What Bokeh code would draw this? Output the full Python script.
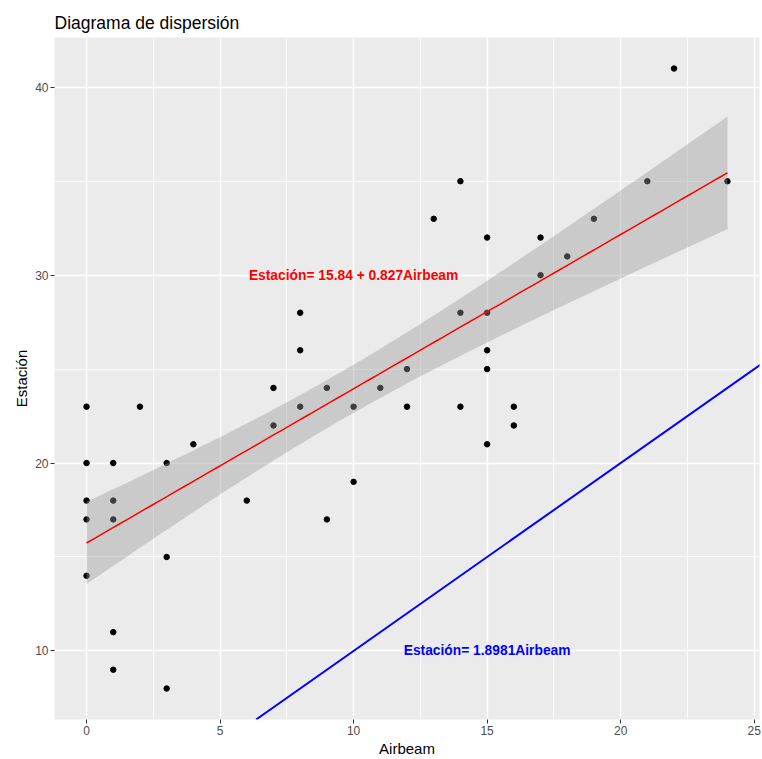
import numpy as np
from bokeh.plotting import figure
from bokeh.models import Range1d, Label, Slope, FixedTicker, ColumnDataSource
from bokeh.embed import file_html
from bokeh.resources import INLINE

# Data
airbeam = [0, 0, 0, 0, 0,
           1, 1, 1, 1, 1,
           2,
           3, 3, 3,
           4,
           6,
           7, 7,
           8, 8, 8,
           9, 9,
           10, 10,
           11,
           12, 12,
           13,
           14, 14, 14,
           15, 15, 15, 15, 15,
           16, 16,
           17, 17,
           18,
           19,
           21,
           22,
           24]
estacion = [23, 20, 18, 17, 14,
            20, 18, 17, 11, 9,
            23,
            20, 15, 8,
            21,
            18,
            24, 22,
            28, 26, 23,
            24, 17,
            23, 19,
            24,
            25, 23,
            33,
            35, 28, 23,
            32, 28, 26, 25, 21,
            23, 22,
            32, 30,
            31,
            33,
            35,
            41,
            35]

x_ticks = [0, 5, 10, 15, 20, 25]
y_ticks = [10, 20, 30, 40]
fit_label = "Estación= 15.84 + 0.827Airbeam"
ref_label = "Estación= 1.8981Airbeam"
ref_slope = 1.0
ref_intercept = 0.0

x = np.array(airbeam, dtype=float)
y = np.array(estacion, dtype=float)
n = len(x)
xb, yb = x.mean(), y.mean()
sxx = ((x - xb) ** 2).sum()
b1 = ((x - xb) * (y - yb)).sum() / sxx
b0 = yb - b1 * xb
resid = y - (b0 + b1 * x)
s = np.sqrt((resid ** 2).sum() / (n - 2))
tq = 2.0167  # t quantile 0.975, df=43
xs = np.linspace(x.min(), x.max(), 80)
ys = b0 + b1 * xs
se = s * np.sqrt(1.0 / n + (xs - xb) ** 2 / sxx)
lo, hi = ys - tq * se, ys + tq * se

xmin, xmax = x.min(), x.max()
ymin, ymax = min(y.min(), lo.min()), max(y.max(), hi.max())
dx, dy = (xmax - xmin) * 0.05, (ymax - ymin) * 0.05

FONT = "Liberation Sans"

p = figure(width=762, height=759, output_backend="svg", toolbar_location=None,
           x_range=Range1d(xmin - dx, xmax + dx), y_range=Range1d(ymin - dy, ymax + dy),
           title="Diagrama de dispersión")
p.min_border_left = 54
p.min_border_right = 3
p.min_border_top = 37
p.min_border_bottom = 39
p.background_fill_color = "#EBEBEB"
p.border_fill_color = "white"
p.outline_line_color = None

p.title.text_font = FONT
p.title.text_font_size = "17.5px"
p.title.text_font_style = "normal"
p.title.text_color = "black"

p.xaxis.ticker = FixedTicker(ticks=x_ticks, minor_ticks=[-2.5, 2.5, 7.5, 12.5, 17.5, 22.5])
p.yaxis.ticker = FixedTicker(ticks=y_ticks, minor_ticks=[5, 15, 25, 35, 45])
for ax in (p.xaxis[0], p.yaxis[0]):
    ax.axis_line_color = None
    ax.major_tick_line_color = "#333333"
    ax.major_tick_line_width = 1
    ax.major_tick_in = 0
    ax.major_tick_out = 4
    ax.minor_tick_line_color = None
    ax.major_label_text_font = FONT
    ax.major_label_text_font_size = "12px"
    ax.major_label_text_color = "#4D4D4D"
    ax.major_label_standoff = 2
    ax.axis_label_text_font = FONT
    ax.axis_label_text_font_size = "15px"
    ax.axis_label_text_font_style = "normal"
    ax.axis_label_text_color = "black"
    ax.axis_label_standoff = 2
p.xaxis.axis_label = "Airbeam"
p.yaxis.axis_label = "Estación"

for g in (p.xgrid[0], p.ygrid[0]):
    g.grid_line_color = "white"
    g.grid_line_width = 1.5
    g.minor_grid_line_color = "white"
    g.minor_grid_line_width = 0.8

p.scatter(airbeam, estacion, size=5.5, color="black")

band = ColumnDataSource(dict(x=np.concatenate([xs, xs[::-1]]), y=np.concatenate([lo, hi[::-1]])))
p.patch("x", "y", source=band, fill_color="#999999", fill_alpha=0.4, line_color=None)
p.line(xs, ys, line_color="red", line_width=1.5)

p.add_layout(Slope(gradient=ref_slope, y_intercept=ref_intercept, line_color="blue", line_width=2))

p.add_layout(Label(x=10, y=30, text=fit_label, text_align="center", text_baseline="middle",
                   text_color="red", text_font=FONT, text_font_style="bold", text_font_size="13.8px"))
p.add_layout(Label(x=15, y=10, text=ref_label, text_align="center", text_baseline="middle",
                   text_color="blue", text_font=FONT, text_font_style="bold", text_font_size="13.8px"))

open("out.html", "w").write(file_html(p, INLINE))
